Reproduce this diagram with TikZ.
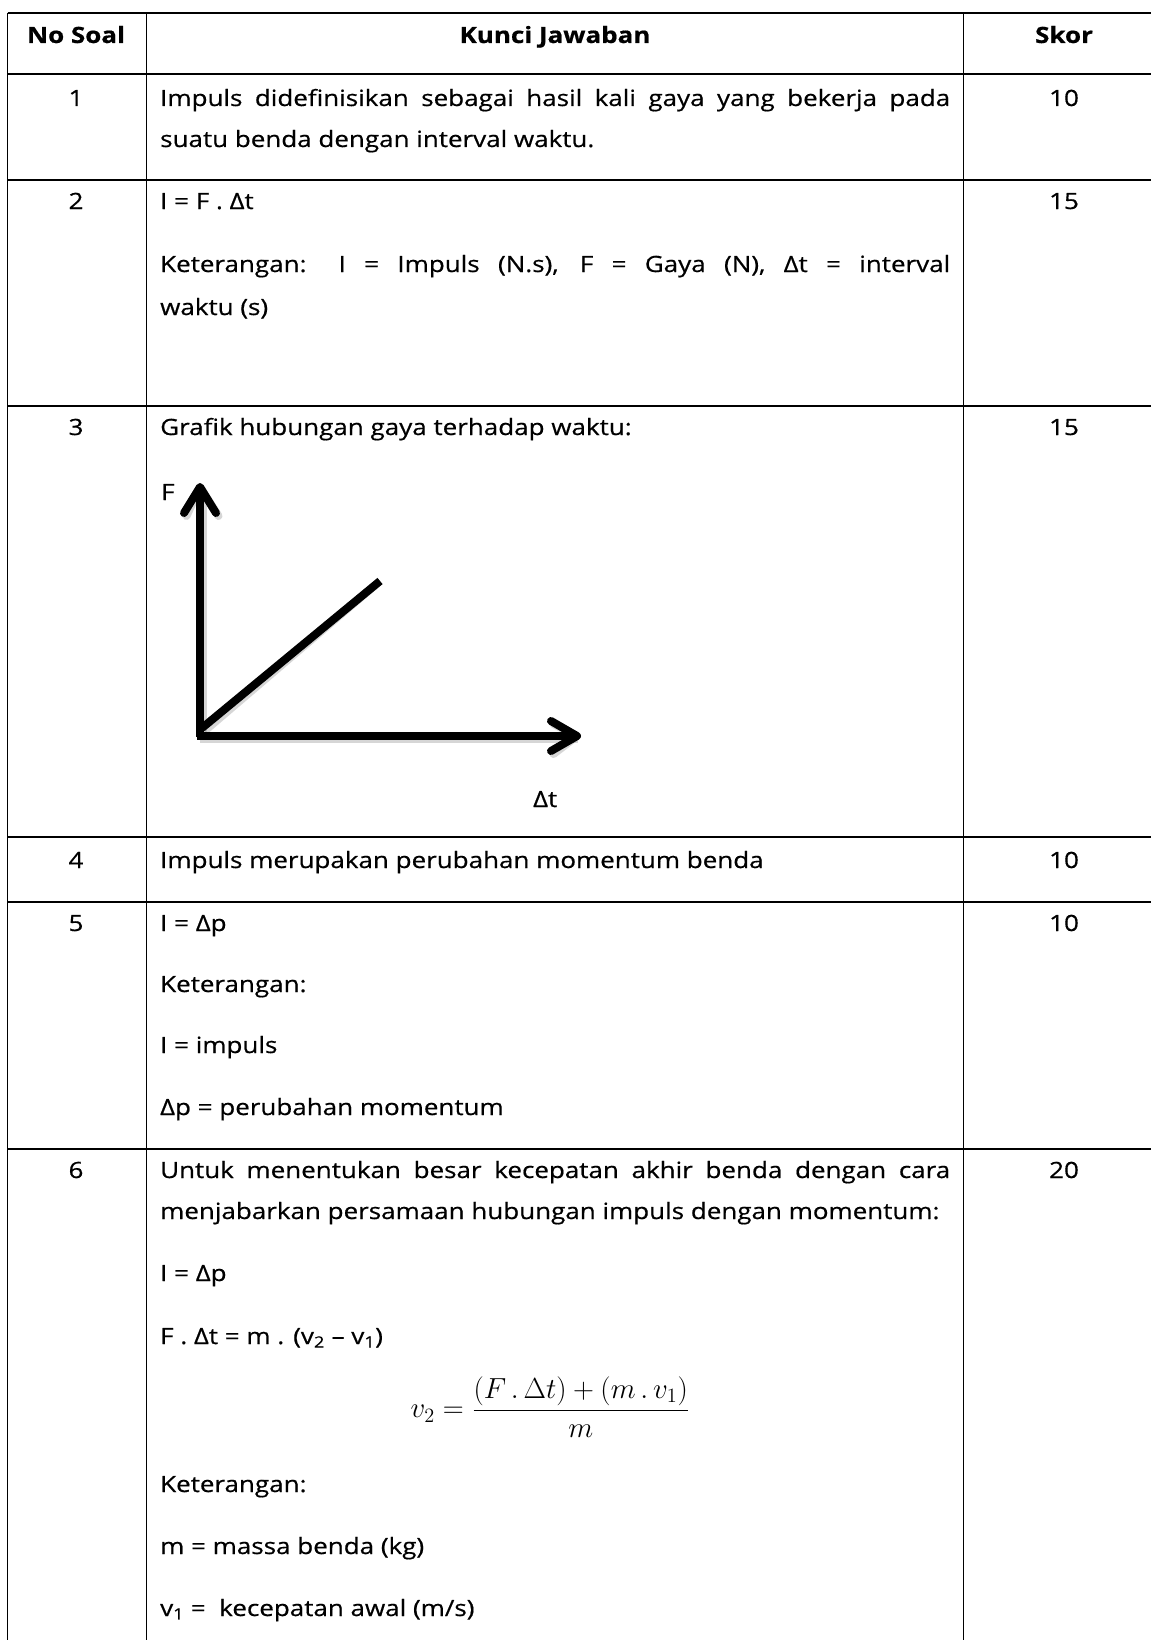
\RequirePackage{fix-cm}
\documentclass[tikz,border=0pt]{standalone}
\usepackage{fontspec}
\setmainfont{Open Sans}[FakeStretch=1.16, FakeBold=0.6]
\usepackage{amsmath}
\usepackage{graphicx}
\begin{document}
\begin{tikzpicture}[x=1pt,y=-1pt,
  txt/.style={font=\fontsize{22.4}{27}\selectfont, inner sep=0pt, anchor=base west},
  ctr/.style={txt, anchor=base},
  hdr/.style={ctr, font=\fontsize{22.4}{27}\selectfont\bfseries},
  rulel/.style={line width=1.8pt},
  axisl/.style={line width=8pt},
  tipl/.style={line width=8pt, line cap=round, line join=round},
  shadowl/.style={black!45, opacity=0.35}]
\useasboundingbox (0,0) rectangle (1151,1640);
\fill[white] (0,0) rectangle (1151,1640);
% table rules
\foreach \yy in {13,74,180,406,837,902,1149}
  \draw[rulel] (7.5,\yy) -- (1151,\yy);
\foreach \xx in {7.5,146.5,963.5}
  \draw[rulel] (\xx,13) -- (\xx,1640);
% header
\node[hdr] (h1) at (76,43) {No Soal};
\node[hdr] (h2) at (555,43) {Kunci Jawaban};
\node[hdr] (h3) at (1064,43) {Skor};
% row 1
\node[ctr] (n1) at (76,106) {1};
\node[txt] (r1a) at (160,106) {\makebox[790pt][s]{Impuls didefinisikan sebagai hasil kali gaya yang bekerja pada}};
\node[txt] (r1b) at (160,147) {suatu benda dengan interval waktu.};
\node[ctr] (s1) at (1064,106) {10};
% row 2
\node[ctr] (n2) at (76,209) {2};
\node[txt] (r2a) at (160,209) {I = F . Δt};
\node[txt] (r2b) at (160,272) {\makebox[790pt][s]{Keterangan: I = Impuls (N.s), F = Gaya (N), Δt = interval}};
\node[txt] (r2c) at (160,315) {waktu (s)};
\node[ctr] (s2) at (1064,209) {15};
% row 3
\node[ctr] (n3) at (76,435) {3};
\node[txt] (r3a) at (160,435) {Grafik hubungan gaya terhadap waktu:};
\node[ctr] (s3) at (1064,435) {15};
\node[txt] (lF) at (161,500) {F};
\node[txt] (lt) at (533,807) {Δt};
\coordinate (O) at (200,733);
\coordinate (Ytip) at (200,487);
\coordinate (Xtip) at (577,736);
\coordinate (D) at (380,581);
\begin{scope}[shift={(2.5,3)}, shadowl]
  \draw[axisl] (200,737) -- (200,490);
  \draw[axisl] (197,736) -- (575,736);
  \draw[axisl] (202,728) -- (D);
  \draw[tipl] (184,513) -- (Ytip) -- (216,513);
  \draw[tipl] (551,721) -- (Xtip) -- (551,751);
\end{scope}
\draw[axisl] (200,737) -- (200,490);
\draw[axisl] (197,736) -- (575,736);
\draw[axisl] (202,728) -- (D);
\draw[tipl] (184,513) -- (Ytip) -- (216,513);
\draw[tipl] (551,721) -- (Xtip) -- (551,751);
% row 4
\node[ctr] (n4) at (76,868) {4};
\node[txt] (r4a) at (160,868) {Impuls merupakan perubahan momentum benda};
\node[ctr] (s4) at (1064,868) {10};
% row 5
\node[ctr] (n5) at (76,931) {5};
\node[txt] (r5a) at (160,931) {I = Δp};
\node[txt] (r5b) at (160,992) {Keterangan:};
\node[txt] (r5c) at (160,1053) {I = impuls};
\node[txt] (r5d) at (160,1115) {Δp = perubahan momentum};
\node[ctr] (s5) at (1064,931) {10};
% row 6
\node[ctr] (n6) at (76,1178) {6};
\node[txt] (r6a) at (160,1178) {\makebox[790pt][s]{Untuk menentukan besar kecepatan akhir benda dengan cara}};
\node[txt] (r6b) at (160,1219) {menjabarkan persamaan hubungan impuls dengan momentum:};
\node[txt] (r6c) at (160,1281) {I = Δp};
\node[txt] (r6d) at (160,1344) {F . Δt = m . (v\textsubscript{2} – v\textsubscript{1})};
\node[font=\fontsize{22}{27}\selectfont, inner sep=0pt] (r6e) at (550,1407) {\scalebox{1.32}{$v_2 = \dfrac{(F\,.\,\Delta t) + (m\,.\,v_1)}{m}$}};
\node[txt] (r6f) at (160,1492) {Keterangan:};
\node[txt] (r6g) at (160,1554) {m = massa benda (kg)};
\node[txt] (r6h) at (160,1616) {v\textsubscript{1} =\ \ kecepatan awal (m/s)};
\node[ctr] (s6) at (1064,1178) {20};
\end{tikzpicture}
\end{document}
